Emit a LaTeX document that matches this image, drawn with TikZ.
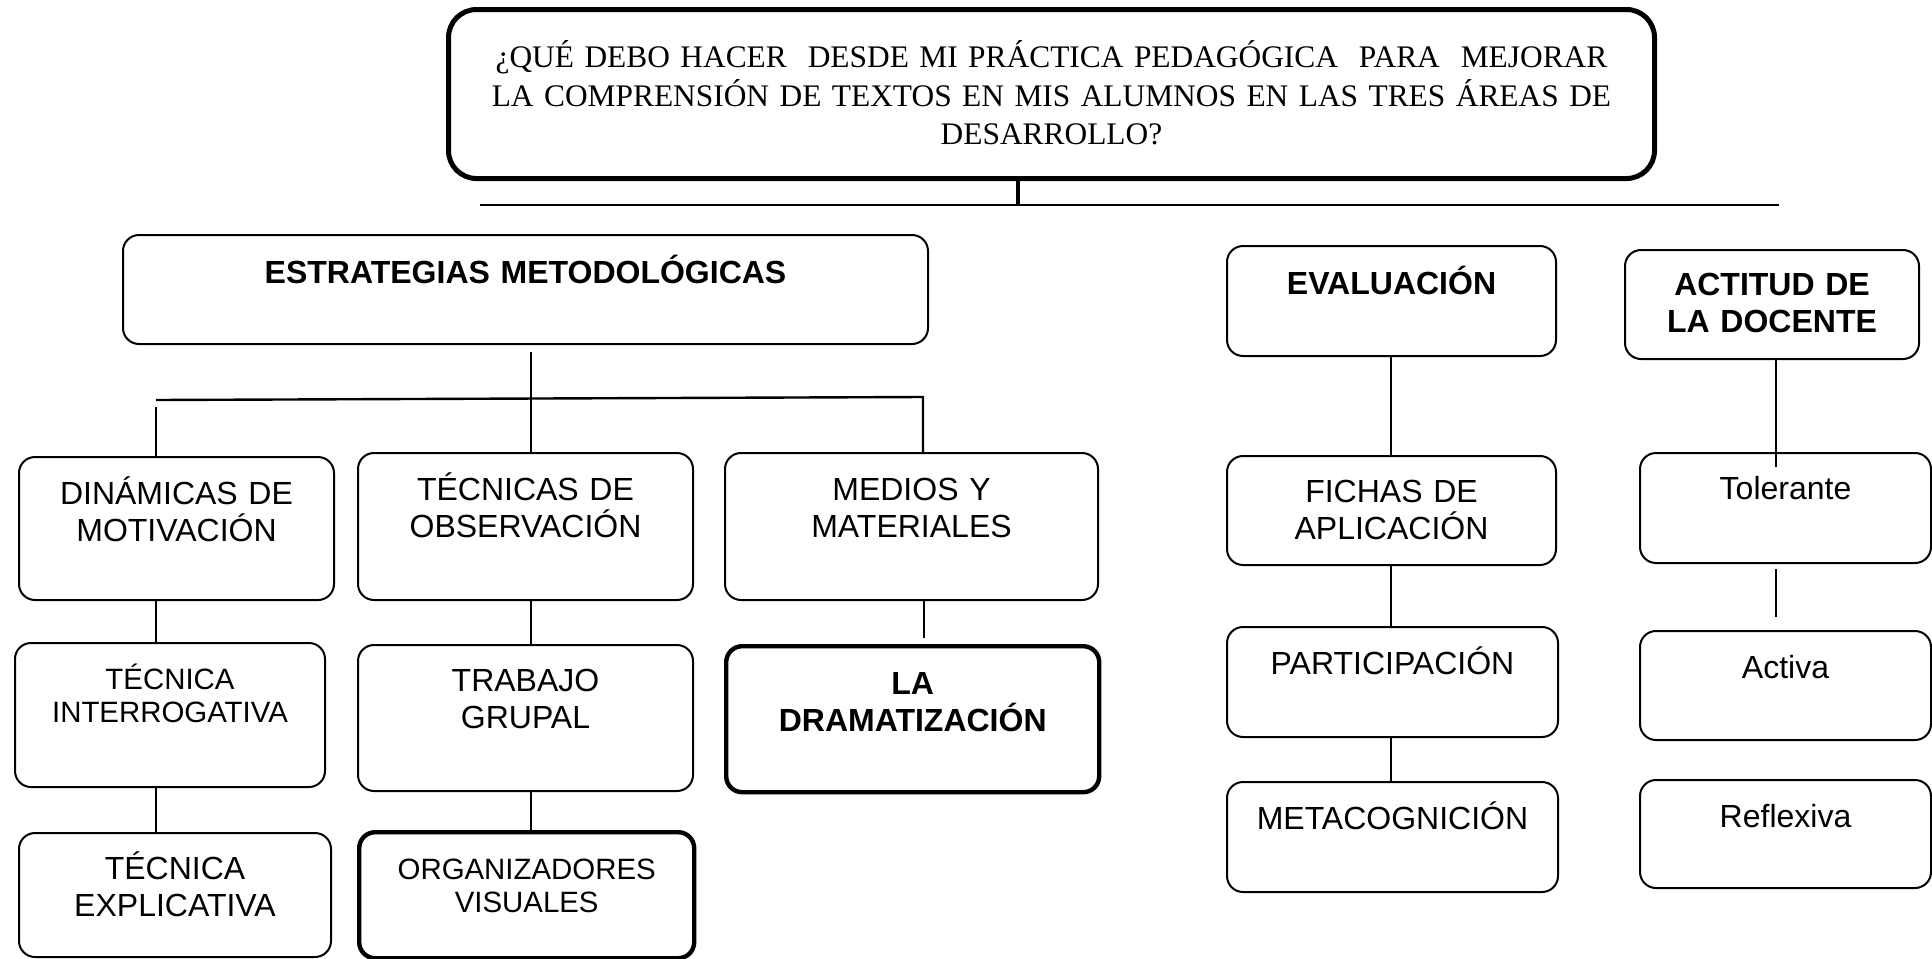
\documentclass[tikz,border=0pt]{standalone}
\usepackage{fontspec}
\setmainfont{Liberation Serif}
\setsansfont{Liberation Sans}
\tikzset{caja/.style={draw, rounded corners=8pt, line width=1pt, inner sep=0pt, align=center, anchor=north west, font=\sffamily\fontsize{16}{18.5}\selectfont}}
\tikzset{gruesa/.style={caja, line width=2.2pt}}
\tikzset{chica/.style={font=\sffamily\fontsize{14.7}{16.5}\selectfont}}
\tikzset{linea/.style={line width=1pt}}
\begin{document}
\begin{tikzpicture}[x=0.5pt,y=-0.5pt]
\useasboundingbox (0,0) rectangle (1932,958);
\node[caja, line width=2.5pt, rounded corners=14pt, font=\rmfamily\fontsize{15.7}{19.25}\selectfont, text width=603pt, text height=29pt, text depth=55.5pt] (pregunta) at (446,7)
  {¿QUÉ DEBO HACER\ \ DESDE MI PRÁCTICA PEDAGÓGICA\ \ PARA\ \ MEJORAR\\LA COMPRENSIÓN DE TEXTOS EN MIS ALUMNOS EN LAS TRES ÁREAS DE\\DESARROLLO?};
\node[caja, text width=402.5pt, text height=24pt, text depth=30.5pt] (estrategias) at (122,234) {\textbf{ESTRATEGIAS METODOLÓGICAS}};
\node[caja, text width=157.5pt, text height=23.5pt, text depth=48pt] (dinamicas) at (18,456) {DINÁMICAS DE\\MOTIVACIÓN};
\node[caja, text width=167.5pt, text height=23.5pt, text depth=50pt] (observacion) at (357,452) {TÉCNICAS DE\\OBSERVACIÓN};
\node[caja, text width=186.5pt, text height=23.5pt, text depth=50pt] (medios) at (724,452) {MEDIOS Y\\MATERIALES};
\node[caja, chica, text width=155pt, text height=23pt, text depth=49pt] (interrogativa) at (14,642) {TÉCNICA\\INTERROGATIVA};
\node[caja, text width=167.5pt, text height=23pt, text depth=50pt] (grupal) at (357,644) {TRABAJO\\GRUPAL};
\node[gruesa, text width=186.5pt, text height=24pt, text depth=49pt] (dramatizacion) at (724,644) {\textbf{LA}\\\textbf{DRAMATIZACIÓN}};
\node[caja, text width=156pt, text height=23pt, text depth=39pt] (explicativa) at (18,832) {TÉCNICA\\EXPLICATIVA};
\node[gruesa, chica, text width=167.5pt, text height=23.5pt, text depth=39.5pt] (organizadores) at (357,830) {ORGANIZADORES\\VISUALES};
\node[caja, text width=164.5pt, text height=24pt, text depth=31pt] (evaluacion) at (1226,245) {\textbf{EVALUACIÓN}};
\node[caja, text width=147pt, text height=22.5pt, text depth=32pt] (actitud) at (1624,249) {\textbf{ACTITUD DE}\\\textbf{LA DOCENTE}};
\node[caja, text width=164.5pt, text height=23pt, text depth=31.5pt] (fichas) at (1226,455) {FICHAS DE\\APLICACIÓN};
\node[caja, text width=165.5pt, text height=23.5pt, text depth=31.5pt] (participacion) at (1226,626) {PARTICIPACIÓN};
\node[caja, text width=165.5pt, text height=23.5pt, text depth=31.5pt] (metacognicion) at (1226,781) {METACOGNICIÓN};
\node[caja, text width=145.5pt, text height=23pt, text depth=32pt] (tolerante) at (1639,452) {Tolerante};
\node[caja, text width=145.5pt, text height=23.5pt, text depth=31pt] (activa) at (1639,630) {Activa};
\node[caja, text width=145.5pt, text height=23.5pt, text depth=30.5pt] (reflexiva) at (1639,779) {Reflexiva};
\coordinate (cq) at (1018,0);
\coordinate (ca) at (156,0);
\coordinate (cb) at (531,0);
\coordinate (cc) at (924,0);
\coordinate (cd) at (1391,0);
\coordinate (ce) at (1776,0);
\coordinate (l1) at (480,205);
\coordinate (l2) at (1779,205);
\coordinate (b1) at (156,400);
\coordinate (b2) at (923,397);
\draw[line width=2.2pt] (pregunta.south -| cq) -- (cq |- l1);
\draw[linea] (l1) -- (l2);
\draw[linea] ([yshift=-3.5pt]estrategias.south -| cb) -- (observacion.north -| cb);
\draw[line width=1.2pt] (b1) -- (b2) -- (medios.north -| b2);
\draw[linea] ([yshift=-3.5pt]b1) -- (dinamicas.north -| ca);
\path[linea]
  (dinamicas.south -| ca) edge (interrogativa.north -| ca)
  (interrogativa.south -| ca) edge (explicativa.north -| ca)
  (observacion.south -| cb) edge (grupal.north -| cb)
  (grupal.south -| cb) edge (organizadores.north -| cb)
  (medios.south -| cc) edge [shorten >=3pt] (dramatizacion.north -| cc)
  (evaluacion.south -| cd) edge (fichas.north -| cd)
  (fichas.south -| cd) edge (participacion.north -| cd)
  (participacion.south -| cd) edge (metacognicion.north -| cd)
  (actitud.south -| ce) edge ([yshift=-7.5pt]tolerante.north -| ce)
  (tolerante.south -| ce) edge [shorten <=2.5pt, shorten >=6.5pt] (activa.north -| ce);
\end{tikzpicture}
\end{document}
